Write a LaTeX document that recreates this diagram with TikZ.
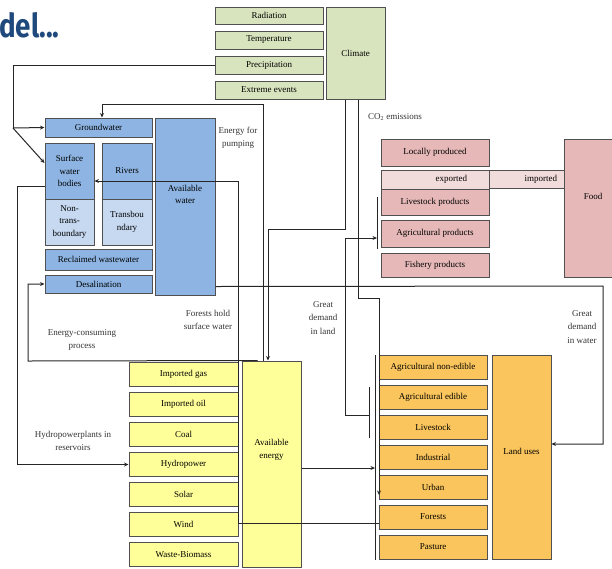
\documentclass[tikz,border=0pt]{standalone}
\usepackage{fontspec}
\setmainfont{Liberation Serif}
\setsansfont{Fira Sans}
\usetikzlibrary{arrows.meta, positioning}
\definecolor{climgreen}{RGB}{215,228,189}
\definecolor{waterblue}{RGB}{141,180,226}
\definecolor{waterlight}{RGB}{198,217,241}
\definecolor{foodpink}{RGB}{230,185,184}
\definecolor{foodlight}{RGB}{242,220,219}
\definecolor{energyyellow}{RGB}{255,255,153}
\definecolor{landorange}{RGB}{250,197,92}
\definecolor{titleblue}{RGB}{31,73,125}
\definecolor{edgegray}{RGB}{80,80,80}

\begin{document}
\begin{tikzpicture}[x=1pt, y=-1pt,
        box/.style={draw=edgegray, line width=1pt, inner sep=0pt, align=center,
            font=\fontsize{9}{12.5}\selectfont},
        climbox/.style={box, fill=climgreen},
        waterbox/.style={box, fill=waterblue},
        waterpale/.style={box, fill=waterlight},
        foodbox/.style={box, fill=foodpink},
        foodpale/.style={box, fill=foodlight},
        energybox/.style={box, fill=energyyellow},
        landbox/.style={box, fill=landorange},
        boxtext/.style={inner sep=0pt, align=center, font=\fontsize{9}{12.5}\selectfont},
        note/.style={inner sep=0pt, align=center, text=black!80, font=\fontsize{9}{13.5}\selectfont},
        wire/.style={draw=black!85, line width=1pt},
        flow/.style={wire, -{Stealth[length=4.5pt, width=4pt]}}
    ]
    \useasboundingbox (0,0) rectangle (612,568);

    % Title
    \node[inner sep=0pt, anchor=west, text=titleblue, font=\sffamily\bfseries\fontsize{33}{33}\selectfont]
        (title) at (-1,25) {\scalebox{0.84}[1]{del...}};

    % Climate
    \node[climbox, minimum width=108pt, minimum height=17pt] (rad) at (269,15.5) {Radiation};
    \node[climbox, minimum width=108pt, minimum height=18pt] (temp) at (269,40) {Temperature};
    \node[climbox, minimum width=108pt, minimum height=18pt] (precip) at (269,65) {Precipitation};
    \node[climbox, minimum width=108pt, minimum height=18pt] (extreme) at (269,90) {Extreme events};
    \node[climbox, minimum width=59pt, minimum height=92pt] (climate) at (355.5,53) {Climate};

    % Water
    \node[waterbox, minimum width=107pt, minimum height=19pt] (ground) at (98.5,127.5) {Groundwater};
    \node[waterbox, minimum width=49pt, minimum height=56pt] (surf) at (69.5,171) {Surface\\water\\bodies};
    \node[waterpale, minimum width=49pt, minimum height=46pt] (nontrans) at (69.5,222) {Non-\\trans-\\boundary};
    \node[waterbox, minimum width=50pt, minimum height=56pt] (rivers) at (127,171) {Rivers};
    \node[waterpale, minimum width=50pt, minimum height=46pt] (trans) at (127,222) {Transbou\\ndary};
    \node[waterbox, minimum width=107pt, minimum height=21pt] (reclaim) at (98.5,259.5) {Reclaimed wastewater};
    \node[waterbox, minimum width=107pt, minimum height=18pt] (desal) at (98.5,284) {Desalination};
    \node[waterbox, minimum width=60pt, minimum height=177pt] (avwater) at (185,206.5) {};
    \node[boxtext, yshift=12pt] (avwatertext) at (avwater.center) {Available\\water};

    % Food
    \node[foodbox, minimum width=108pt, minimum height=27pt] (local) at (435,152.5) {Locally produced};
    \node[foodpale, minimum width=108pt, minimum height=19pt, text width=64pt, align=right] (exported) at (435,179.5) {exported};
    \node[foodpale, minimum width=75pt, minimum height=18pt, text width=61pt, align=right] (imported) at (526.5,179) {imported};
    \node[foodbox, minimum width=108pt, minimum height=26pt] (livestockp) at (435,202) {Livestock products};
    \node[foodbox, minimum width=108pt, minimum height=27pt] (agrip) at (435,233.5) {Agricultural products};
    \node[foodbox, minimum width=108pt, minimum height=24pt] (fishery) at (435,265) {Fishery products};
    \node[foodbox, minimum width=58pt, minimum height=138pt] (food) at (593,208) {};
    \node[boxtext, yshift=12pt] (foodtext) at (food.center) {Food};

    % Energy
    \foreach \n/\t [count=\i from 0] in {gas/Imported gas, oil/Imported oil, coal/Coal,
            hydro/Hydropower, solar/Solar, wind/Wind, waste/Waste-Biomass}
        \node[energybox, minimum width=109pt, minimum height=24pt] (\n) at (183.5,{374.5+30*\i}) {\t};
    \node[energybox, minimum width=59pt, minimum height=206pt] (avenergy) at (271.5,464) {};
    \node[boxtext, yshift=14pt] (avenergytext) at (avenergy.center) {Available\\energy};

    % Land
    \foreach \n/\t [count=\i from 0] in {agnon/Agricultural non-edible, aged/Agricultural edible,
            livestock/Livestock, industrial/Industrial, urban/Urban, forests/Forests, pasture/Pasture}
        \node[landbox, minimum width=108pt, minimum height=24pt] (\n) at (433,{367+30*\i}) {\t};
    \node[landbox, minimum width=59pt, minimum height=204pt] (landuses) at (521.5,457) {};
    \node[boxtext, yshift=6pt] (landusestext) at (landuses.center) {Land uses};

    % Bend points and bars
    \coordinate (pjoin) at (13,128);
    \coordinate (pump) at (263,104);
    \coordinate (econs) at (28,361);
    \coordinate (fhold) at (238,181);
    \coordinate (hjoin) at (17,186);
    \coordinate (wdem) at (603,286);
    \coordinate (cbend) at (345,229);
    \coordinate (co2) at (358,298);
    \coordinate (landdown) at (379,495);
    \coordinate (gland) at (345,415);
    \coordinate (sbar) at (369,415);
    \coordinate (fbar) at (377,238);
    \coordinate (lbarin) at (375,468);
    \coordinate (fbartop) at (377,197);
    \coordinate (fbarbot) at (377,249);
    \coordinate (lbartop) at (375,355);
    \coordinate (lbarbot) at (375,560);
    \coordinate (sbartop) at (369,387);
    \coordinate (sbarbot) at (369,438);

    \draw[wire] (fbartop) -- (fbarbot);
    \draw[wire] (lbartop) -- (lbarbot);
    \draw[wire] (sbartop) -- (sbarbot);

    % Connectors
    \draw[wire] (precip.west) -| (pjoin);
    \draw[flow] (pjoin) -- (ground.west);
    \draw[flow] (pjoin) -- ([yshift=8pt]surf.west);
    \draw[flow] ([xshift=-8.5pt]avenergy.north) -- (pump) -| ([xshift=3.5pt]ground.north);
    \draw[flow] ([xshift=-14pt]avenergy.north) -- (econs) |- (desal.west);
    \draw[flow] ([yshift=-6pt]forests.west) -| (fhold) -- ([yshift=-10pt]surf.east);
    \draw[flow] ([yshift=-15pt]surf.west) -- (hjoin) |- (hydro.west);
    \draw[flow] ([yshift=9pt]avwater.south east) -- (wdem) |- ([yshift=13pt]landuses.east);
    \draw[flow] ([xshift=-10.5pt]climate.south) -- (cbend) -| ([xshift=-3.5pt]avenergy.north);
    \draw[flow] ([xshift=2.5pt]climate.south) -- (co2) -| (landdown);
    \draw[flow] (sbar) -- (gland) |- (fbar);
    \draw[flow] ([yshift=-4pt]avenergy.east) -- (lbarin);

    % Labels
    \node[note] (pumping) at (238,138) {Energy for\\pumping};
    \node[note, anchor=west] (emissions) at (368,117) {CO\textsubscript{2} emissions};
    \node[note] (forestwater) at (208,320) {Forests hold\\surface water};
    \node[note] (consuming) at (82,340) {Energy-consuming\\process};
    \node[note] (reservoirs) at (73,441) {Hydropowerplants in\\reservoirs};
    \node[note] (landdemand) at (323,318) {Great\\demand\\in land};
    \node[note] (waterdemand) at (582,327) {Great\\demand\\in water};
\end{tikzpicture}
\end{document}
